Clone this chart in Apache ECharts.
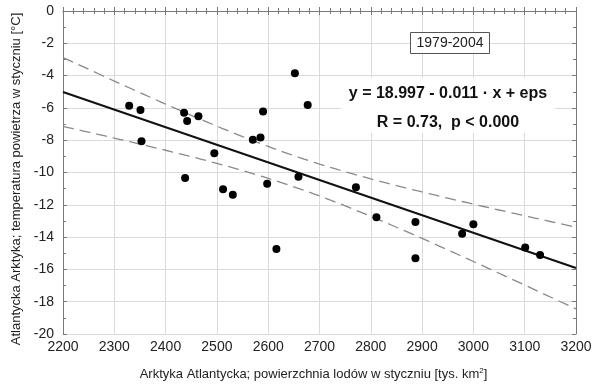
<!DOCTYPE html>
<html>
<head>
<meta charset="utf-8">
<script src="https://cdn.jsdelivr.net/npm/echarts@6/dist/echarts.min.js"></script>
<style>
  html, body { margin: 0; padding: 0; background: #fff; }
  #chart { width: 592px; height: 384px; }
</style>
</head>
<body>
<div id="chart"></div>
<script>
// January sea-ice extent in the Atlantic Arctic [thousand km2], 1979-2004
const iceArea = [
  2329, 2351, 2353, 2436, 2442, 2464, 2495, 2438, 2512, 2531,
  2652, 2677, 2590, 2570, 2585, 2659, 2598, 2771, 2616, 2811,
  2887, 2887, 2978, 3000, 3101, 3130
];
// January air temperature in the Atlantic Arctic [°C], same years
const airTemp = [
  -5.86, -6.13, -8.07, -6.30, -6.81, -6.52, -8.81, -10.34, -11.04, -11.37,
  -3.86, -5.82, -6.23, -7.97, -7.84, -10.26, -10.69, -10.92, -14.74, -12.77,
  -13.07, -15.31, -13.79, -13.21, -14.65, -15.11
];

// Axis ranges and tick steps
const X_MIN = 2200, X_MAX = 3200, X_STEP = 100;
const Y_MIN = -20, Y_MAX = 0, Y_STEP = 2;

const periodLabel = '1979-2004';
const equationLabel = 'y = 18.997 - 0.011 · x + eps';
const statsLabel = 'R = 0.73,  p < 0.000';

// Student t quantile (0.975) for n - 2 = 24 degrees of freedom
const T_975 = 2.0639;

// Ordinary least squares fit with 95% confidence band of the mean
function fitLinear(xs, ys) {
  const n = xs.length;
  const mx = xs.reduce((a, b) => a + b, 0) / n;
  const my = ys.reduce((a, b) => a + b, 0) / n;
  let sxx = 0, sxy = 0;
  for (let i = 0; i < n; i++) {
    sxx += (xs[i] - mx) * (xs[i] - mx);
    sxy += (xs[i] - mx) * (ys[i] - my);
  }
  const slope = sxy / sxx;
  const icept = my - slope * mx;
  let sse = 0;
  for (let i = 0; i < n; i++) {
    const r = ys[i] - (icept + slope * xs[i]);
    sse += r * r;
  }
  const s = Math.sqrt(sse / (n - 2));
  return {
    at: x => icept + slope * x,
    half: x => T_975 * s * Math.sqrt(1 / n + (x - mx) * (x - mx) / sxx)
  };
}

const fit = fitLinear(iceArea, airTemp);
const fitLine = [[X_MIN, fit.at(X_MIN)], [X_MAX, fit.at(X_MAX)]];
const upperBand = [], lowerBand = [];
for (let x = X_MIN; x <= X_MAX; x += 10) {
  upperBand.push([x, fit.at(x) + fit.half(x)]);
  lowerBand.push([x, fit.at(x) - fit.half(x)]);
}

const FONT = '"Liberation Sans", Arial, Helvetica, sans-serif';
const frameColor = '#7a7a7a';
const gridColor = '#dadada';

const chart = echarts.init(document.getElementById('chart'), null, { renderer: 'canvas' });

const tickCommon = { show: true, inside: true, length: 4, lineStyle: { color: frameColor } };
const minorCommon = { show: true, length: 3, lineStyle: { color: frameColor } };
const plainNumber = v => String(v);

chart.setOption({
  animation: false,
  backgroundColor: '#fff',
  grid: { left: 63, right: 16, top: 11, bottom: 50, outerBoundsMode: 'none' },
  xAxis: [
    {
      type: 'value', min: X_MIN, max: X_MAX, interval: X_STEP,
      axisLine: { show: true, lineStyle: { color: frameColor } },
      axisTick: tickCommon,
      minorTick: Object.assign({ splitNumber: 5 }, minorCommon),
      splitLine: { show: true, lineStyle: { color: gridColor, width: 1 } },
      axisLabel: { color: '#222', fontSize: 14, fontFamily: FONT, margin: 6, formatter: plainNumber },
      name: '{t|Arktyka Atlantycka; powierzchnia lodów w styczniu [tys. km}{s|2}{t|]}',
      nameLocation: 'middle', nameGap: 33,
      nameTextStyle: {
        padding: [0, 12, 0, 0],
        rich: {
          t: { fontSize: 13, fontFamily: FONT, color: '#222' },
          s: { fontSize: 8, fontFamily: FONT, color: '#222', verticalAlign: 'top', padding: [0, 0, 7, 0] }
        }
      }
    },
    {
      type: 'value', position: 'top', min: X_MIN, max: X_MAX, interval: X_STEP,
      axisLine: { show: true, lineStyle: { color: frameColor } },
      axisTick: tickCommon,
      minorTick: Object.assign({ splitNumber: 5 }, minorCommon),
      splitLine: { show: false }, axisLabel: { show: false }
    }
  ],
  yAxis: [
    {
      type: 'value', min: Y_MIN, max: Y_MAX, interval: Y_STEP,
      axisLine: { show: true, lineStyle: { color: frameColor } },
      axisTick: tickCommon,
      minorTick: Object.assign({ splitNumber: 2 }, minorCommon),
      splitLine: { show: true, lineStyle: { color: gridColor, width: 1 } },
      axisLabel: { color: '#222', fontSize: 14, fontFamily: FONT, margin: 9, formatter: plainNumber },
      name: 'Atlantycka Arktyka; temperatura powietrza w styczniu [°C]',
      nameLocation: 'middle', nameGap: 40,
      nameTextStyle: { fontSize: 13, fontFamily: FONT, color: '#222', padding: [0, 13, 0, 0] }
    },
    {
      type: 'value', position: 'right', min: Y_MIN, max: Y_MAX, interval: Y_STEP,
      axisLine: { show: true, lineStyle: { color: frameColor } },
      axisTick: tickCommon,
      minorTick: Object.assign({ splitNumber: 2 }, minorCommon),
      splitLine: { show: false }, axisLabel: { show: false }
    }
  ],
  series: [
    {
      type: 'line', data: upperBand, showSymbol: false, silent: true, z: 3,
      lineStyle: { color: '#8a8a8a', width: 1.3, type: [11, 6] }
    },
    {
      type: 'line', data: lowerBand, showSymbol: false, silent: true, z: 3,
      lineStyle: { color: '#8a8a8a', width: 1.3, type: [11, 6] }
    },
    {
      type: 'line', data: fitLine, showSymbol: false, silent: true, z: 4,
      lineStyle: { color: '#111', width: 2 }
    },
    {
      type: 'scatter', data: iceArea.map((x, i) => [x, airTemp[i]]), z: 5,
      symbol: 'circle', symbolSize: 8,
      itemStyle: { color: '#000', opacity: 1 }
    }
  ],
  graphic: [
    {
      type: 'rect', z: 2, silent: true,
      shape: { x: 341, y: 78, width: 214, height: 55 },
      style: { fill: '#fff' }
    },
    {
      type: 'text', z: 6, x: 448, y: 94,
      style: { text: equationLabel, font: 'bold 16px ' + FONT, fill: '#111', align: 'center', verticalAlign: 'middle' }
    },
    {
      type: 'text', z: 6, x: 448, y: 123,
      style: { text: statsLabel, font: 'bold 16px ' + FONT, fill: '#111', align: 'center', verticalAlign: 'middle' }
    },
    {
      type: 'rect', z: 6,
      shape: { x: 410.5, y: 32.5, width: 79, height: 21 },
      style: { fill: '#fff', stroke: '#555', lineWidth: 1 }
    },
    {
      type: 'text', z: 7, x: 450, y: 43,
      style: { text: periodLabel, font: '14px ' + FONT, fill: '#222', align: 'center', verticalAlign: 'middle' }
    }
  ]
});
</script>
</body>
</html>
